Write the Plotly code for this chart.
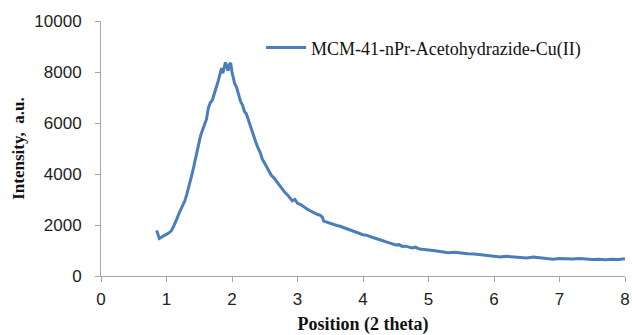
import plotly.graph_objects as go

position = [0.85, 0.87, 0.89, 0.92, 0.95, 0.98, 1.01, 1.04, 1.07, 1.10, 1.13, 1.16, 1.19, 1.22, 1.25,
            1.28, 1.31, 1.34, 1.37, 1.40, 1.43, 1.46, 1.49, 1.52, 1.55, 1.58, 1.61, 1.64, 1.67, 1.70,
            1.73, 1.76, 1.79, 1.82, 1.84, 1.86, 1.88, 1.90, 1.92, 1.94, 1.96, 1.98, 2.00, 2.02, 2.04,
            2.07, 2.10, 2.13, 2.16, 2.19, 2.22, 2.25, 2.28, 2.31, 2.34, 2.37, 2.40, 2.43, 2.46, 2.49,
            2.52, 2.56, 2.60, 2.64, 2.68, 2.72, 2.76, 2.80, 2.84, 2.88, 2.92, 2.96, 3.00, 3.05, 3.10,
            3.15, 3.20, 3.25, 3.30, 3.35, 3.38, 3.40, 3.45, 3.50, 3.55, 3.60, 3.65, 3.70, 3.75, 3.80,
            3.85, 3.90, 3.95, 4.00, 4.05, 4.10, 4.15, 4.20, 4.25, 4.30, 4.35, 4.40, 4.45, 4.50, 4.55,
            4.60, 4.65, 4.70, 4.75, 4.80, 4.85, 4.90, 4.95, 5.00, 5.10, 5.20, 5.30, 5.40, 5.50, 5.60,
            5.70, 5.80, 5.90, 6.00, 6.10, 6.20, 6.30, 6.40, 6.50, 6.60, 6.70, 6.80, 6.90, 7.00, 7.10,
            7.20, 7.30, 7.40, 7.50, 7.60, 7.70, 7.80, 7.90, 8.00]

intensity = [1790, 1600, 1470, 1520, 1560, 1580, 1650, 1700, 1760, 1900, 2050, 2250, 2450, 2600, 2780,
             2950, 3200, 3550, 3800, 4100, 4500, 4900, 5150, 5500, 5750, 5950, 6150, 6600, 6800, 6900,
             7200, 7400, 7650, 7900, 8150, 7950, 8250, 8380, 8200, 8050, 8300, 8350, 8000, 7800, 7550,
             7400, 7100, 6850, 6700, 6450, 6350, 6100, 5900, 5650, 5400, 5200, 5000, 4850, 4600, 4450,
             4350, 4150, 3950, 3850, 3700, 3600, 3450, 3300, 3200, 3050, 2950, 3000, 2850, 2800, 2700,
             2620, 2550, 2480, 2420, 2380, 2300, 2150, 2100, 2060, 2010, 1980, 1950, 1900, 1850, 1820,
             1760, 1700, 1660, 1620, 1600, 1540, 1510, 1470, 1420, 1390, 1340, 1300, 1260, 1220, 1230,
             1160, 1170, 1130, 1100, 1130, 1070, 1050, 1040, 1010, 990, 950, 910, 930, 890, 870,
             860, 830, 800, 780, 750, 770, 740, 730, 710, 740, 720, 700, 660, 690, 680,
             670, 690, 660, 650, 660, 640, 660, 650, 680]

series_name = "MCM-41-nPr-Acetohydrazide-Cu(II)"
x_title = "Position (2 theta)"
y_title = "Intensity,  a.u."

fig = go.Figure()
fig.add_trace(go.Scatter(x=position, y=intensity, mode="lines", name=series_name, showlegend=True,
                         line=dict(color="#4A7EBB", width=3)))

axis_common = dict(showgrid=False, zeroline=False, showline=True, linecolor="#A6A6A6", linewidth=1,
                   ticks="outside", tickcolor="#A6A6A6", ticklen=5, automargin=False,
                   tickfont=dict(family="Liberation Sans", size=17, color="#222222"))

fig.update_xaxes(range=[0, 8], dtick=1, tick0=0, ticklabelstandoff=3, title=dict(text=x_title,
                 font=dict(family="Liberation Serif", size=18, color="#111111", weight="bold"), standoff=9),
                 **axis_common)
fig.update_yaxes(range=[0, 10000], dtick=2000, tick0=0, tickformat="d", title=dict(text=y_title,
                 font=dict(family="Liberation Serif", size=17, color="#111111", weight="bold"), standoff=5),
                 ticklabelstandoff=10, **axis_common)

fig.update_layout(width=632, height=335, margin=dict(l=101, r=7, t=21, b=59),
                  paper_bgcolor="white", plot_bgcolor="white",
                  legend=dict(x=0.3055, y=0.967, xanchor="left", yanchor="top", itemwidth=40,
                              font=dict(family="Liberation Serif", size=18, color="#111111"),
                              bgcolor="rgba(0,0,0,0)"))

fig.write_html("out.html")
